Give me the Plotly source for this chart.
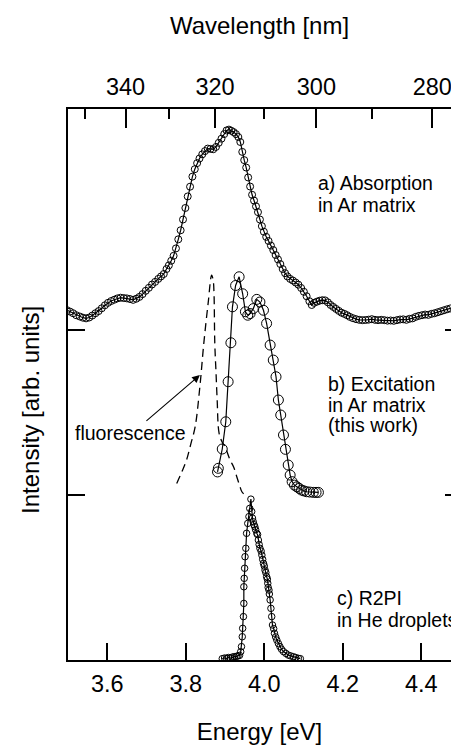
import plotly.graph_objects as go

# ---------------- data ----------------
# a) Absorption in Ar matrix (offset baseline 2)
abs_energy = [3.497,3.505,3.513,3.521,3.530,3.538,3.546,3.554,3.562,3.570,3.578,3.586,3.594,3.602,3.610,
              3.618,3.626,3.634,3.642,3.650,3.658,3.666,3.674,3.682,3.690,3.698,3.706,3.714,3.722,3.730,
              3.737,3.744,3.751,3.757,3.763,3.769,3.775,3.781,3.787,3.793,3.799,3.805,3.811,3.817,3.823,
              3.829,3.835,3.842,3.849,3.856,3.863,3.870,3.877,3.884,3.891,3.898,3.904,3.910,3.916,3.922,
              3.928,3.934,3.939,3.944,3.949,3.954,3.959,3.964,3.969,3.974,3.979,3.984,3.989,3.994,3.999,
              4.005,4.011,4.017,4.023,4.029,4.035,4.041,4.047,4.053,4.059,4.066,4.073,4.080,4.087,4.094,
              4.101,4.108,4.115,4.121,4.127,4.134,4.141,4.148,4.155,4.162,4.169,4.176,4.183,4.190,4.197,
              4.204,4.211,4.218,4.226,4.234,4.242,4.250,4.258,4.266,4.274,4.282,4.290,4.298,4.306,4.314,
              4.322,4.330,4.338,4.346,4.354,4.362,4.370,4.378,4.386,4.394,4.402,4.410,4.418,4.426,4.434,
              4.442,4.450,4.458,4.466,4.474]
abs_intensity = [2.121,2.112,2.102,2.090,2.082,2.075,2.071,2.076,2.088,2.102,2.115,2.132,2.150,2.165,2.176,
                 2.184,2.192,2.196,2.194,2.192,2.188,2.183,2.190,2.201,2.218,2.238,2.256,2.276,2.292,2.310,
                 2.325,2.340,2.370,2.392,2.420,2.450,2.495,2.550,2.605,2.670,2.740,2.810,2.869,2.930,2.975,
                 3.012,3.040,3.065,3.085,3.100,3.098,3.096,3.110,3.135,3.160,3.188,3.210,3.215,3.208,3.200,
                 3.188,3.170,3.140,3.080,3.030,2.985,2.925,2.870,2.820,2.785,2.750,2.715,2.670,2.630,2.596,
                 2.565,2.540,2.512,2.485,2.455,2.428,2.400,2.370,2.345,2.325,2.310,2.300,2.288,2.275,2.255,
                 2.232,2.205,2.175,2.152,2.165,2.172,2.178,2.181,2.180,2.168,2.152,2.140,2.128,2.116,2.105,
                 2.098,2.090,2.080,2.072,2.066,2.062,2.060,2.061,2.063,2.066,2.062,2.060,2.062,2.060,2.057,
                 2.058,2.056,2.060,2.064,2.065,2.062,2.068,2.071,2.080,2.086,2.090,2.094,2.092,2.098,2.102,
                 2.108,2.114,2.120,2.126,2.131]

# b) Excitation in Ar matrix (offset baseline 1)
exc_energy = [3.881,3.883,3.893,3.902,3.908,3.915,3.919,3.927,3.936,3.945,3.952,3.958,3.964,3.972,3.981,
              3.989,3.998,4.006,4.015,4.023,4.030,4.036,4.042,4.049,4.054,4.061,4.066,4.071,4.077,4.083,
              4.089,4.095,4.101,4.108,4.116,4.125,4.132,4.138]
exc_intensity = [1.140,1.162,1.279,1.444,1.687,1.923,2.141,2.270,2.323,2.220,2.111,2.090,2.100,2.130,2.186,
                 2.170,2.120,2.040,1.909,1.818,1.717,1.576,1.485,1.364,1.277,1.182,1.121,1.081,1.060,1.050,
                 1.040,1.030,1.025,1.020,1.018,1.016,1.016,1.016]

# fluorescence (dashed)
flu_energy = [3.777,3.790,3.802,3.813,3.824,3.836,3.846,3.857,3.866,3.870,3.872,3.874,3.877,3.880,3.885,
              3.893,3.900,3.913,3.922,3.930,3.937,3.943,3.951]
flu_intensity = [1.070,1.140,1.212,1.310,1.414,1.657,1.919,2.162,2.333,2.300,2.222,1.919,1.750,1.580,1.374,
                 1.320,1.293,1.212,1.170,1.111,1.060,1.020,1.000]

# c) R2PI in He droplets (baseline 0)
r2pi_energy = [3.893,3.899,3.904,3.909,3.914,3.919,3.924,3.929,3.933,3.937,3.940,3.942,3.944,3.945,3.947,
               3.948,3.948,3.949,3.950,3.951,3.953,3.955,3.958,3.961,3.963,3.966,3.968,3.970,3.972,3.974,
               3.976,3.978,3.981,3.983,3.985,3.987,3.989,3.992,3.994,3.996,3.998,4.000,4.002,4.004,4.006,
               4.008,4.009,4.010,4.012,4.013,4.015,4.017,4.019,4.021,4.024,4.026,4.029,4.032,4.036,4.040,
               4.044,4.049,4.055,4.061,4.067,4.074,4.080,4.087,4.092]
r2pi_intensity = [0.008,0.012,0.010,0.015,0.012,0.018,0.020,0.022,0.025,0.028,0.050,0.081,0.141,0.192,0.263,
                  0.343,0.444,0.495,0.556,0.626,0.677,0.768,0.828,0.869,0.919,0.975,0.900,0.860,0.838,0.820,
                  0.808,0.790,0.768,0.760,0.727,0.700,0.677,0.660,0.636,0.610,0.586,0.570,0.545,0.530,0.505,
                  0.490,0.465,0.440,0.424,0.400,0.364,0.313,0.263,0.212,0.190,0.162,0.140,0.121,0.100,0.081,
                  0.065,0.051,0.040,0.030,0.025,0.020,0.015,0.010,0.008]

energy_ticks = [3.6, 3.8, 4.0, 4.2, 4.4]
wavelength_major = [340, 320, 300, 280]
wavelength_minor = [350, 330, 310, 290]
offset_ticks = [0, 1, 2]

assert len(abs_energy) == len(abs_intensity)
assert len(exc_energy) == len(exc_intensity)
assert len(flu_energy) == len(flu_intensity)
assert len(r2pi_energy) == len(r2pi_intensity)

HC = 1239.84  # eV*nm
X_RANGE = [3.5, 4.4758]
Y_RANGE = [0, 3.34]
FONT = "Liberation Sans, Arial, Helvetica, sans-serif"
TICK_SIZE = 23.5
TITLE_SIZE = 24
ANN_SIZE = 19.5

W, H = 451, 755
ML, MR, MT, MB = 68, 0, 109, 95

fig = go.Figure()

circle = dict(symbol="circle-open", color="black", line=dict(width=1, color="black"))

fig.add_trace(go.Scatter(x=abs_energy, y=abs_intensity, mode="lines+markers",
                         line=dict(color="black", width=1.2),
                         marker=dict(size=7, **circle), showlegend=False))
fig.add_trace(go.Scatter(x=exc_energy, y=exc_intensity, mode="lines+markers",
                         line=dict(color="black", width=1.2),
                         marker=dict(size=10, **circle), showlegend=False))
fig.add_trace(go.Scatter(x=flu_energy, y=flu_intensity, mode="lines",
                         line=dict(color="black", width=1.3, dash="8px,5px", shape="spline"),
                         showlegend=False))
fig.add_trace(go.Scatter(x=r2pi_energy, y=r2pi_intensity, mode="lines+markers",
                         line=dict(color="black", width=1.2),
                         marker=dict(size=6.5, **circle), showlegend=False))
# empty trace to register the top / right axes
fig.add_trace(go.Scatter(x=[], y=[], xaxis="x2", yaxis="y2", showlegend=False))

ann_font = dict(family=FONT, size=ANN_SIZE, color="black")

def label(x, y, text):
    fig.add_annotation(x=x, y=y, xref="x", yref="y", text=text, showarrow=False,
                       xanchor="left", yanchor="middle", font=ann_font)

label(4.131, 2.891, "a) Absorption")
label(4.131, 2.757, "in Ar matrix")
label(4.157, 1.673, "b) Excitation")
label(4.157, 1.545, "in Ar matrix")
label(4.157, 1.424, "(this work)")
label(4.181, 0.376, "c) R2PI")
label(4.181, 0.242, "in He droplets")
label(3.514, 1.376, "fluorescence")

fig.add_annotation(x=3.836, y=1.727, ax=3.696, ay=1.442, xref="x", yref="y",
                   axref="x", ayref="y", text="", showarrow=True,
                   arrowhead=2, arrowsize=1.4, arrowwidth=1.1, arrowcolor="black")

# y title, placed in page pixels (30, 410) converted to paper fractions
fig.add_annotation(x=(30 - ML) / (W - ML - MR), y=(H - MB - 410) / (H - MT - MB),
                   xref="paper", yref="paper", xanchor="center", yanchor="middle",
                   text="Intensity [arb. units]", textangle=-90, showarrow=False,
                   font=dict(family=FONT, size=TITLE_SIZE, color="black"))

axis_common = dict(showgrid=False, zeroline=False, linecolor="black", linewidth=1.5,
                   tickcolor="black", tickwidth=1.5, automargin=False, ticklabeloverflow="allow",
                   tickfont=dict(family=FONT, size=TICK_SIZE, color="black"))

fig.update_layout(
    width=W, height=H,
    margin=dict(l=ML, r=MR, t=MT, b=MB),
    paper_bgcolor="white", plot_bgcolor="white",
    template="none",
    font=dict(family=FONT, color="black"),
    xaxis=dict(range=X_RANGE, tickvals=energy_ticks, ticktext=[f"{v:.1f}" for v in energy_ticks],
               ticks="inside", ticklen=17, showline=True, mirror=False,
               ticklabelstandoff=2,
               title=dict(text="Energy [eV]", font=dict(family=FONT, size=TITLE_SIZE, color="black"), standoff=27),
               **axis_common),
    xaxis2=dict(range=X_RANGE, overlaying="x", side="top",
                tickvals=[HC / w for w in wavelength_major], ticktext=[str(w) for w in wavelength_major],
                ticks="inside", ticklen=19, showline=True, ticklabelstandoff=3,
                minor=dict(tickvals=[HC / w for w in wavelength_minor], ticks="inside", ticklen=10,
                           tickwidth=1.5, tickcolor="black"),
                title=dict(text="Wavelength [nm]", font=dict(family=FONT, size=TITLE_SIZE, color="black"), standoff=32),
                **axis_common),
    yaxis=dict(range=Y_RANGE, tickvals=offset_ticks, showticklabels=False, ticks="inside", ticklen=17,
               showline=True, **axis_common),
    yaxis2=dict(range=Y_RANGE, overlaying="y", side="right", tickvals=offset_ticks, showticklabels=False,
                ticks="inside", ticklen=6, showline=False, **axis_common),
)

fig.write_html("out.html", config={"displayModeBar": False},
               post_script="document.body.style.margin='0';")
